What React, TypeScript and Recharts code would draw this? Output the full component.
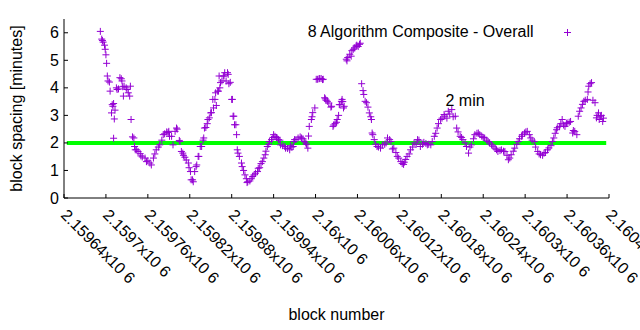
import { Legend, ReferenceDot, ReferenceLine, Scatter, ScatterChart, XAxis, YAxis } from 'recharts'

const SERIES_NAME = '8 Algorithm Composite - Overall'

const blockNumbers = [
  2159692, 2159694, 2159695, 2159696, 2159698, 2159699, 2159700, 2159701, 2159702, 2159703,
  2159705, 2159706, 2159708, 2159709, 2159710, 2159711, 2159711, 2159712, 2159713, 2159715,
  2159716, 2159718, 2159720, 2159722, 2159723, 2159724, 2159725, 2159726, 2159729, 2159730,
  2159732, 2159734, 2159735, 2159736, 2159738, 2159740, 2159741, 2159742, 2159744, 2159746,
  2159749, 2159750, 2159752, 2159756, 2159758, 2159760, 2159763, 2159765, 2159768, 2159770,
  2159772, 2159775, 2159777, 2159780, 2159782, 2159784, 2159787, 2159789, 2159790, 2159791,
  2159794, 2159796, 2159799, 2159801, 2159802, 2159805, 2159806, 2159808, 2159810, 2159811,
  2159813, 2159815, 2159818, 2159819, 2159821, 2159822, 2159824, 2159825, 2159827, 2159829,
  2159830, 2159832, 2159833, 2159835, 2159837, 2159839, 2159840, 2159841, 2159843, 2159845,
  2159846, 2159848, 2159850, 2159851, 2159853, 2159854, 2159856, 2159857, 2159858, 2159860,
  2159861, 2159862, 2159863, 2159864, 2159866, 2159868, 2159869, 2159870, 2159872, 2159874,
  2159875, 2159876, 2159878, 2159880, 2159881, 2159882, 2159883, 2159884, 2159886, 2159887,
  2159888, 2159889, 2159891, 2159894, 2159895, 2159897, 2159899, 2159901, 2159902, 2159903,
  2159906, 2159908, 2159910, 2159912, 2159914, 2159917, 2159918, 2159920, 2159922, 2159924,
  2159926, 2159928, 2159929, 2159931, 2159933, 2159934, 2159937, 2159939, 2159940, 2159942,
  2159944, 2159945, 2159947, 2159949, 2159950, 2159953, 2159956, 2159957, 2159960, 2159963,
  2159964, 2159966, 2159968, 2159969, 2159970, 2159972, 2159975, 2159978, 2159980, 2159982,
  2159984, 2159986, 2159987, 2159989, 2159990, 2159991, 2159994, 2159995, 2159996, 2159999,
  2160001, 2160003, 2160005, 2160006, 2160008, 2160010, 2160011, 2160013, 2160014, 2160015,
  2160017, 2160019, 2160022, 2160023, 2160025, 2160026, 2160028, 2160030, 2160031, 2160033,
  2160034, 2160035, 2160037, 2160038, 2160039, 2160040, 2160041, 2160044, 2160045, 2160046,
  2160049, 2160051, 2160052, 2160054, 2160056, 2160058, 2160059, 2160061, 2160063, 2160064,
  2160066, 2160068, 2160069, 2160071, 2160073, 2160075, 2160077, 2160079, 2160080, 2160081,
  2160082, 2160084, 2160086, 2160088, 2160090, 2160093, 2160096, 2160099, 2160101, 2160103,
  2160106, 2160108, 2160110, 2160112, 2160115, 2160117, 2160119, 2160122, 2160124, 2160126,
  2160127, 2160129, 2160131, 2160134, 2160136, 2160139, 2160141, 2160144, 2160146, 2160148,
  2160150, 2160153, 2160155, 2160158, 2160160, 2160162, 2160165, 2160167, 2160170, 2160172,
  2160174, 2160176, 2160179, 2160181, 2160184, 2160185, 2160188, 2160190, 2160192, 2160195,
  2160197, 2160200, 2160202, 2160204, 2160207, 2160209, 2160211, 2160214, 2160216, 2160219,
  2160221, 2160223, 2160226, 2160228, 2160231, 2160233, 2160235, 2160238, 2160240, 2160242,
  2160245, 2160247, 2160249, 2160252, 2160254, 2160257, 2160259, 2160261, 2160264, 2160266,
  2160269, 2160271, 2160274, 2160276, 2160278, 2160280, 2160283, 2160285, 2160288, 2160290,
  2160292, 2160295, 2160296, 2160299, 2160301, 2160303, 2160306, 2160308, 2160310, 2160313,
  2160315, 2160318, 2160320, 2160322, 2160325, 2160327, 2160329, 2160332, 2160334, 2160337,
  2160339, 2160341, 2160343, 2160345, 2160346, 2160349, 2160351, 2160353, 2160355, 2160357,
  2160359, 2160360, 2160363, 2160365, 2160368, 2160369, 2160371, 2160374, 2160376, 2160378,
  2160380, 2160382, 2160384, 2160386, 2160389, 2160390, 2160391, 2160393, 2160395, 2160397,
  2160400, 2160402, 2160403, 2160405, 2160406, 2160408, 2160409, 2160411, 2160412,
]

const spacingMinutes = [
  6.05, 5.77, 5.72, 5.66, 5.55, 5.4, 5.2, 4.89, 4.43, 4.25,
  4.21, 3.88, 3.09, 3.39, 3.33, 3.43, 2.17, 2.87, 3.19, 4.0,
  3.94, 3.96, 4.37, 4.33, 4.25, 4.04, 3.7, 4.06, 4.0, 3.94,
  3.82, 3.7, 4.06, 2.85, 2.22, 2.18, 1.87, 1.75, 1.75, 1.69,
  1.61, 1.53, 1.49, 1.45, 1.32, 1.35, 1.27, 1.2, 1.45, 1.6,
  1.75, 1.85, 1.93, 2.1, 2.3, 2.33, 2.4, 2.38, 2.42, 2.24,
  2.24, 1.93, 2.42, 2.54, 2.5, 2.09, 2.05, 1.69, 1.63, 1.55,
  1.48, 1.38, 1.27, 1.1, 0.96, 0.66, 0.66, 0.59, 0.96, 1.14,
  1.2, 1.51, 1.51, 1.87, 1.87, 2.1, 2.18, 2.54, 2.56, 2.7,
  2.85, 2.91, 3.09, 3.1, 3.58, 3.27, 3.58, 3.82, 3.36, 3.88,
  3.88, 4.43, 4.0, 4.19, 4.25, 4.43, 4.43, 4.55, 4.25, 4.55,
  4.49, 4.15, 4.2, 3.58, 3.58, 2.97, 2.97, 2.66, 2.66, 2.3,
  1.75, 1.63, 1.51, 1.27, 1.14, 1.0, 0.84, 0.7, 0.56, 0.59,
  0.62, 0.7, 0.78, 0.84, 0.9, 0.96, 1.08, 1.1, 1.25, 1.32,
  1.45, 1.57, 1.7, 1.87, 1.95, 2.05, 2.12, 2.2, 2.3, 2.24,
  2.2, 2.18, 2.12, 2.1, 1.93, 1.9, 1.87, 1.81, 1.8, 1.75,
  1.9, 1.85, 1.87, 2.05, 2.12, 2.12, 2.18, 2.22, 2.18, 2.15,
  2.05, 2.0, 1.95, 1.81, 2.25, 2.6, 2.85, 2.95, 3.1, 3.27,
  4.31, 4.31, 4.33, 4.34, 4.34, 4.3, 4.31, 3.64, 3.6, 3.55,
  3.51, 3.45, 3.3, 3.33, 2.6, 2.65, 2.7, 2.75, 2.85, 3.0,
  3.39, 3.39, 3.51, 3.58, 3.5, 3.27, 3.33, 5.04, 4.98, 5.1,
  5.22, 5.15, 5.35, 5.4, 5.45, 5.52, 5.55, 5.5, 5.58, 5.62,
  4.15, 3.9, 3.76, 3.51, 3.46, 3.3, 3.09, 2.95, 2.85, 2.36,
  2.3, 2.12, 1.95, 1.87, 1.85, 1.81, 1.93, 1.95, 2.0, 2.18,
  2.12, 2.05, 1.78, 1.81, 1.65, 1.51, 1.45, 1.32, 1.25, 1.22,
  1.3, 1.4, 1.51, 1.6, 1.75, 1.85, 2.0, 1.95, 2.12, 2.1,
  1.87, 1.95, 2.02, 1.98, 1.93, 1.95, 1.93, 2.05, 2.24, 2.35,
  2.54, 2.7, 2.85, 2.9, 3.03, 2.97, 2.9, 3.15, 3.05, 3.21,
  2.95, 2.97, 2.54, 2.4, 2.24, 2.2, 2.12, 2.0, 1.87, 1.63,
  1.85, 1.93, 2.15, 2.3, 2.35, 2.36, 2.3, 2.24, 2.2, 2.18,
  2.1, 2.05, 2.0, 1.93, 1.88, 1.81, 1.75, 1.69, 1.72, 1.75,
  1.7, 1.69, 1.55, 1.39, 1.45, 1.57, 1.7, 1.81, 1.95, 2.05,
  2.15, 2.24, 2.3, 2.36, 2.4, 2.42, 2.3, 2.18, 2.1, 2.05,
  1.85, 1.69, 1.6, 1.57, 1.55, 1.63, 1.65, 1.75, 1.82, 1.9,
  2.05, 2.18, 2.35, 2.48, 2.55, 2.6, 2.7, 2.85, 2.65, 2.6,
  2.7, 2.73, 2.75, 2.78, 2.36, 2.45, 2.42, 2.3, 2.97, 3.15,
  3.27, 3.4, 3.51, 3.55, 3.58, 3.85, 4.06, 4.15, 4.19, 3.55,
  3.46, 2.91, 3.0, 3.09, 2.85, 2.97, 3.0, 2.78, 2.9,
]

const xTicks = [
  2159640, 2159700, 2159760, 2159820, 2159880, 2159940, 2160000,
  2160060, 2160120, 2160180, 2160240, 2160300, 2160360, 2160420,
]
const yTicks = [0, 1, 2, 3, 4, 5, 6]

// the "2 min" target line and its label
const twoMinBlocks = [2159644, 2160416]
const TWO_MIN = 2
const twoMinLabelAt = { block: 2160186, minutes: 3.53 }

const PURPLE = '#9400d3'
const GREEN = '#00ff00'
const FONT = '"Liberation Sans", Arial, Helvetica, sans-serif'
const FONT_SIZE = 16

const points = blockNumbers.map((block, i) => ({ block, minutes: spacingMinutes[i] }))

const formatBlock = (v: number) => `${+(v / 1e6).toFixed(5)}x10 6`

function PlusShape({ cx, cy }: any) {
  return <path d={`M${cx - 3.5},${cy}h7M${cx},${cy - 3.5}v7`} stroke={PURPLE} strokeWidth={1} fill="none" />
}

function BottomTick({ x, y, payload }: any) {
  const tx = x - 4
  const ty = y + 18
  return (
    <g>
      <line x1={x} y1={y} x2={x} y2={y - 4} stroke="#000" />
      <text
        x={tx}
        y={ty}
        transform={`rotate(45 ${tx} ${ty})`}
        fontSize={FONT_SIZE}
        fontFamily={FONT}
        fill="#000"
      >
        {formatBlock(payload.value)}
      </text>
    </g>
  )
}

function TopTick({ x, y }: any) {
  return <line x1={x} y1={y} x2={x} y2={y + 4} stroke="#000" />
}

function LeftTick({ x, y, payload }: any) {
  return (
    <g>
      <line x1={x} y1={y} x2={x + 4} y2={y} stroke="#000" />
      <text x={x - 5} y={y + 5.5} textAnchor="end" fontSize={FONT_SIZE} fontFamily={FONT} fill="#000">
        {payload.value}
      </text>
    </g>
  )
}

function RightTick({ x, y }: any) {
  return <line x1={x} y1={y} x2={x - 4} y2={y} stroke="#000" />
}

function LegendBox() {
  return (
    <div style={{ position: 'relative', height: 0 }}>
      <svg width={640} height={45} style={{ position: 'absolute', left: 0, top: 0 }}>
        <text x={533.5} y={37} textAnchor="end" fontSize={FONT_SIZE} fontFamily={FONT} fill="#000">
          {SERIES_NAME}
        </text>
        <PlusShape cx={567.5} cy={32.5} />
      </svg>
    </div>
  )
}

export default function App() {
  return (
    <div style={{ position: 'absolute', left: 0, top: 0, width: 640, height: 330, background: '#fff' }}>
      <ScatterChart width={640} height={330} margin={{ top: 19, right: 31, bottom: 32, left: 4 }}>
        <XAxis
          dataKey="block"
          type="number"
          domain={[2159640, 2160420]}
          ticks={xTicks}
          interval={0}
          height={100}
          tickSize={0}
          tickMargin={0}
          tickLine={false}
          axisLine={{ stroke: '#000' }}
          tick={<BottomTick />}
          label={{ value: 'block number', position: 'insideBottom', offset: -22, fill: '#000', fontSize: FONT_SIZE, fontFamily: FONT }}
        />
        <XAxis
          xAxisId="top"
          orientation="top"
          type="number"
          domain={[2159640, 2160420]}
          ticks={xTicks}
          interval={0}
          height={0}
          tickSize={0}
          tickMargin={0}
          tickLine={false}
          axisLine={{ stroke: '#000' }}
          tick={<TopTick />}
        />
        <YAxis
          dataKey="minutes"
          type="number"
          domain={[0, 6.5]}
          ticks={yTicks}
          interval={0}
          width={60}
          tickSize={0}
          tickMargin={0}
          tickLine={false}
          axisLine={{ stroke: '#000' }}
          tick={<LeftTick />}
          label={{
            value: 'block spacing [minutes]',
            angle: -90,
            position: 'insideLeft',
            offset: 12.5,
            fill: '#000',
            fontSize: FONT_SIZE,
            fontFamily: FONT,
            style: { textAnchor: 'middle' },
          }}
        />
        <YAxis
          yAxisId="right"
          orientation="right"
          type="number"
          domain={[0, 6.5]}
          ticks={yTicks}
          interval={0}
          width={0}
          tickSize={0}
          tickMargin={0}
          tickLine={false}
          axisLine={{ stroke: '#000' }}
          tick={<RightTick />}
        />
        <Legend content={<LegendBox />} wrapperStyle={{ left: 0, top: 0, bottom: 'auto', width: 640 }} />
        <ReferenceLine
          segment={[
            { x: twoMinBlocks[0], y: TWO_MIN },
            { x: twoMinBlocks[1], y: TWO_MIN },
          ]}
          stroke={GREEN}
          strokeWidth={4}
        />
        <ReferenceDot
          x={twoMinLabelAt.block}
          y={twoMinLabelAt.minutes}
          r={0}
          fill="none"
          stroke="none"
          label={{ value: '2 min', position: 'right', offset: 0, fill: '#000', fontSize: FONT_SIZE, fontFamily: FONT }}
        />
        <Scatter name={SERIES_NAME} data={points} shape={<PlusShape />} isAnimationActive={false} />
      </ScatterChart>
    </div>
  )
}
